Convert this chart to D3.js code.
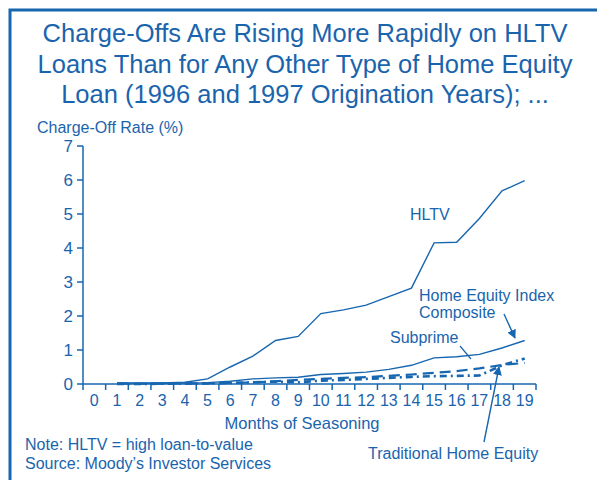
<!DOCTYPE html>
<html>
<head>
<meta charset="utf-8">
<script src="https://cdn.jsdelivr.net/npm/d3@7"></script>
<style>
  body { margin: 0; background: #fff; }
  svg text { font-family: "Liberation Sans", Arial, sans-serif; fill: #1a64ad; }
</style>
</head>
<body>
<svg id="chart" width="597" height="480"></svg>
<script>
'use strict';
var months = d3.range(0, 20);
var seasoned = [1, 2, 3, 4, 5, 6, 7, 8, 9, 10, 11, 12, 13, 14, 15, 16, 17, 18, 19];
var hltv = [0.03, 0.02, 0.03, 0.05, 0.15, 0.5, 0.82, 1.28, 1.4, 2.07, 2.18, 2.32, 2.57, 2.82, 4.15, 4.17, 4.87, 5.68, 5.98];
var subprime = [0.02, 0.02, 0.02, 0.03, 0.04, 0.08, 0.15, 0.18, 0.2, 0.28, 0.31, 0.35, 0.43, 0.55, 0.77, 0.8, 0.87, 1.06, 1.28];
var composite = [0.01, 0.01, 0.01, 0.02, 0.02, 0.03, 0.05, 0.08, 0.12, 0.15, 0.18, 0.2, 0.24, 0.28, 0.33, 0.38, 0.46, 0.56, 0.62];
var traditional = [0.0, 0.0, 0.01, 0.01, 0.02, 0.03, 0.05, 0.07, 0.05, 0.1, 0.12, 0.15, 0.18, 0.21, 0.23, 0.24, 0.25, 0.55, 0.75];
var yTicks = [0, 1, 2, 3, 4, 5, 6, 7];
var blue = '#1766b0';

var svg = d3.select('#chart');

// frame (cropped box)
svg.append('path')
    .attr('d', 'M10,490 L10,10 L600,10')
    .attr('fill', 'none').attr('stroke', blue).attr('stroke-width', 3);

// title
var title = ['Charge-Offs Are Rising More Rapidly on HLTV',
    'Loans Than for Any Other Type of Home Equity',
    'Loan (1996 and 1997 Origination Years); ...'];
svg.append('g').selectAll('text').data(title).enter().append('text')
    .attr('x', 305).attr('y', function (d, i) { return 42 + i * 30.5; })
    .attr('text-anchor', 'middle').attr('font-size', 25.5)
    .text(function (d) { return d; });

var x = d3.scaleBand().domain(months).range([83, 536]);
var y = d3.scaleLinear().domain([0, 7]).range([384, 146]);
var cx = function (m) { return x(m) + x.bandwidth() / 2; };

// y axis
var yg = svg.append('g');
yg.append('line').attr('x1', 83).attr('x2', 83).attr('y1', y(7)).attr('y2', y(0))
    .attr('stroke', blue).attr('stroke-width', 1.5);
yg.selectAll('line.tk').data(yTicks).enter().append('line').attr('class', 'tk')
    .attr('x1', 77).attr('x2', 83).attr('y1', y).attr('y2', y)
    .attr('stroke', blue).attr('stroke-width', 1.5);
yg.selectAll('text').data(yTicks).enter().append('text')
    .attr('x', 73).attr('y', function (d) { return y(d) + 6; })
    .attr('text-anchor', 'end').attr('font-size', 17)
    .text(function (d) { return d; });

// x axis
var xg = svg.append('g');
xg.append('line').attr('x1', 83).attr('x2', 536).attr('y1', 384).attr('y2', 384)
    .attr('stroke', blue).attr('stroke-width', 1.5);
var edges = months.map(function (m) { return x(m); }).concat([x.range()[1]]);
xg.selectAll('line.tk').data(edges).enter().append('line').attr('class', 'tk')
    .attr('x1', function (d) { return d; }).attr('x2', function (d) { return d; })
    .attr('y1', 384).attr('y2', 390)
    .attr('stroke', blue).attr('stroke-width', 1.5);
xg.selectAll('text').data(months).enter().append('text')
    .attr('x', cx).attr('y', 406)
    .attr('text-anchor', 'middle').attr('font-size', 16)
    .text(function (d) { return d; });

svg.append('text').attr('x', 37).attr('y', 133).attr('font-size', 16).text('Charge-Off Rate (%)');
svg.append('text').attr('x', 302).attr('y', 429).attr('text-anchor', 'middle').attr('font-size', 16.5).text('Months of Seasoning');

// series
var line = d3.line()
    .x(function (d, i) { return cx(seasoned[i]); })
    .y(function (d) { return y(d); });
var series = [
    {values: hltv, width: 1.4, dash: null},
    {values: subprime, width: 1.4, dash: null},
    {values: composite, width: 2.2, dash: '11,6'},
    {values: traditional, width: 2.6, dash: '7,4,2,4'}
];
svg.append('g').selectAll('path').data(series).enter().append('path')
    .attr('d', function (d) { return line(d.values); })
    .attr('fill', 'none').attr('stroke', blue)
    .attr('stroke-width', function (d) { return d.width; })
    .attr('stroke-dasharray', function (d) { return d.dash; });

// labels + leaders
svg.append('defs').append('marker').attr('id', 'arr')
    .attr('viewBox', '0 0 10 10').attr('refX', 9).attr('refY', 5)
    .attr('markerWidth', 9).attr('markerHeight', 9).attr('orient', 'auto')
    .attr('markerUnits', 'userSpaceOnUse')
    .append('path').attr('d', 'M0,0 L10,5 L0,10 z').attr('fill', blue);

svg.append('text').attr('x', 410).attr('y', 220).attr('font-size', 16).text('HLTV');
svg.append('text').attr('x', 419).attr('y', 301).attr('font-size', 16).text('Home Equity Index');
svg.append('text').attr('x', 419).attr('y', 318).attr('font-size', 16).text('Composite');
svg.append('text').attr('x', 390).attr('y', 343).attr('font-size', 16).text('Subprime');
svg.append('text').attr('x', 368).attr('y', 459).attr('font-size', 16).text('Traditional Home Equity');
svg.append('text').attr('x', 25).attr('y', 450).attr('font-size', 16).text('Note: HLTV = high loan-to-value');
svg.append('text').attr('x', 25).attr('y', 469).attr('font-size', 16).text('Source: Moody\u2019s Investor Services');

svg.append('line').attr('x1', 460).attr('y1', 346).attr('x2', 471).attr('y2', 359)
    .attr('stroke', blue).attr('stroke-width', 1.2);
svg.append('line').attr('x1', 504).attr('y1', 314).attr('x2', 515).attr('y2', 338)
    .attr('stroke', blue).attr('stroke-width', 1.4).attr('marker-end', 'url(#arr)');
svg.append('line').attr('x1', 484).attr('y1', 442).attr('x2', 499).attr('y2', 367)
    .attr('stroke', blue).attr('stroke-width', 1.4).attr('marker-end', 'url(#arr)');
</script>
</body>
</html>
